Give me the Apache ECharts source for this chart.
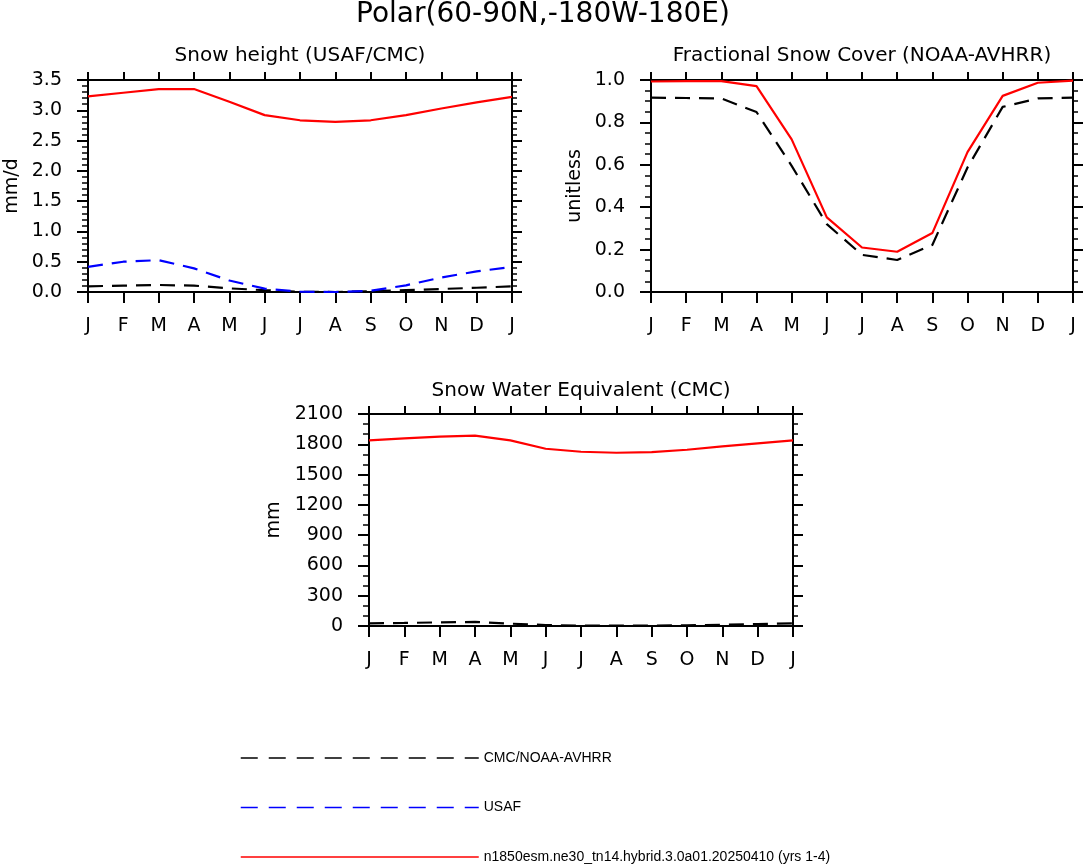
<!DOCTYPE html>
<html>
<head>
<meta charset="utf-8">
<script src="https://cdn.jsdelivr.net/npm/echarts@6/dist/echarts.min.js"></script>
<style>
  html, body { margin: 0; padding: 0; background: #fff; }
  #main { width: 1086px; height: 866px; }
</style>
</head>
<body>
<div id="main"></div>
<script>
'use strict'

var months = ['J', 'F', 'M', 'A', 'M', 'J', 'J', 'A', 'S', 'O', 'N', 'D', 'J'];

// Snow height (mm/d)
var heightCmc = [0.094, 0.105, 0.116, 0.105, 0.06, 0.03, 0.005, 0.0, 0.01, 0.03, 0.05, 0.07, 0.094];
var heightUsaf = [0.415, 0.50, 0.526, 0.39, 0.19, 0.055, 0.005, 0.0, 0.02, 0.11, 0.24, 0.34, 0.415];
var heightModel = [3.23, 3.29, 3.35, 3.35, 3.14, 2.92, 2.835, 2.81, 2.835, 2.92, 3.03, 3.13, 3.22];

// Fractional snow cover (unitless)
var coverObs = [0.917, 0.915, 0.913, 0.849, 0.595, 0.32, 0.175, 0.151, 0.222, 0.587, 0.873, 0.913, 0.917];
var coverModel = [0.993, 0.995, 0.995, 0.971, 0.72, 0.352, 0.21, 0.19, 0.278, 0.66, 0.925, 0.987, 0.997];

// Snow water equivalent (mm)
var sweCmc = [26, 30, 36, 40, 23, 10, 3, 3, 3, 7, 13, 20, 26];
var sweModel = [1839, 1858, 1875, 1885, 1839, 1756, 1726, 1716, 1723, 1746, 1779, 1809, 1839];

var obsName = 'CMC/NOAA-AVHRR';
var usafName = 'USAF';
var modelName = 'n1850esm.ne30_tn14.hybrid.3.0a01.20250410 (yrs 1-4)';

var font = '"DejaVu Sans", sans-serif';
var legendFont = '"Liberation Sans", Arial, sans-serif';

function pairs(vals) {
    return vals.map(function (v, i) { return [i, v]; });
}

function xAxes(grid) {
    var base = {
        gridIndex: grid,
        type: 'value',
        min: 0,
        max: 12,
        interval: 1,
        splitLine: { show: false },
        axisLine: { onZero: false, lineStyle: { color: '#000', width: 2 } },
        axisTick: { length: 11, lineStyle: { color: '#000', width: 2 } }
    };
    var bottom = Object.assign({}, base, {
        position: 'bottom',
        axisLabel: {
            margin: 25,
            fontSize: 19,
            fontFamily: font,
            color: '#000',
            formatter: function (v) { return months[v]; }
        }
    });
    var top = Object.assign({}, base, {
        position: 'top',
        axisTick: { length: 8, lineStyle: { color: '#000', width: 2 } },
        axisLabel: { show: false }
    });
    return [bottom, top];
}

function yAxes(grid, max, interval, minorSplit, name, nameGap, decimals) {
    var base = {
        gridIndex: grid,
        type: 'value',
        min: 0,
        max: max,
        interval: interval,
        splitLine: { show: false },
        axisLine: { onZero: false, lineStyle: { color: '#000', width: 2 } },
        axisTick: { length: 11, lineStyle: { color: '#000', width: 2 } },
        minorTick: { show: true, splitNumber: minorSplit, length: 6, lineStyle: { color: '#000', width: 1.5 } },
        minorSplitLine: { show: false }
    };
    var left = Object.assign({}, base, {
        position: 'left',
        name: name,
        nameLocation: 'middle',
        nameGap: nameGap,
        nameTextStyle: { fontSize: 19, fontFamily: font, color: '#000' },
        axisLabel: {
            margin: 26,
            fontSize: 19,
            fontFamily: font,
            color: '#000',
            formatter: function (v) { return decimals ? v.toFixed(decimals) : String(v); }
        }
    });
    var right = Object.assign({}, base, {
        position: 'right',
        axisTick: { length: 10, lineStyle: { color: '#000', width: 2 } },
        minorTick: { show: true, splitNumber: minorSplit, length: 5, lineStyle: { color: '#000', width: 1.5 } },
        axisLabel: { show: false }
    });
    return [left, right];
}

function line(name, vals, grid, color, dashed) {
    return {
        name: name,
        type: 'line',
        xAxisIndex: grid * 2,
        yAxisIndex: grid * 2,
        data: pairs(vals),
        symbol: 'none',
        silent: true,
        lineStyle: { color: color, width: 2.2, type: dashed ? [15, 9] : 'solid' },
        itemStyle: { color: color }
    };
}

var chart = echarts.init(document.getElementById('main'));
var option = {
    backgroundColor: '#fff',
    animation: false,
    title: [{
        text: 'Polar(60-90N,-180W-180E)',
        left: 543, top: 1, textAlign: 'center', padding: 0,
        textStyle: { fontSize: 28, fontWeight: 'normal', fontFamily: font, color: '#000' }
    }, {
        text: 'Snow height (USAF/CMC)',
        left: 300, top: 46, textAlign: 'center', padding: 0,
        textStyle: { fontSize: 20, fontWeight: 'normal', fontFamily: font, color: '#000' }
    }, {
        text: 'Fractional Snow Cover (NOAA-AVHRR)',
        left: 862, top: 46, textAlign: 'center', padding: 0,
        textStyle: { fontSize: 20, fontWeight: 'normal', fontFamily: font, color: '#000' }
    }, {
        text: 'Snow Water Equivalent (CMC)',
        left: 581, top: 381, textAlign: 'center', padding: 0,
        textStyle: { fontSize: 20, fontWeight: 'normal', fontFamily: font, color: '#000' }
    }],
    legend: {
        orient: 'vertical',
        left: 240,
        top: 751,
        padding: 0,
        itemWidth: 238,
        itemHeight: 14,
        itemGap: 35.5,
        selectedMode: false,
        itemStyle: { opacity: 0 },
        textStyle: { fontSize: 14, fontFamily: legendFont, color: '#000' },
        data: [
            { name: obsName, lineStyle: { width: 1.5, type: [17, 11] } },
            { name: usafName, lineStyle: { width: 1.5, type: [17, 11] } },
            { name: modelName, lineStyle: { width: 1.5, type: 'solid' } }
        ]
    },
    grid: [
        { left: 88, top: 80, width: 424, height: 212 },
        { left: 651, top: 80, width: 422, height: 212 },
        { left: 369, top: 414, width: 424, height: 212 }
    ],
    xAxis: [].concat(xAxes(0), xAxes(1), xAxes(2)),
    yAxis: [].concat(
        yAxes(0, 3.5, 0.5, 5, 'mm/d', 66, 1),
        yAxes(1, 1.0, 0.2, 4, 'unitless', 66, 1),
        yAxes(2, 2100, 300, 3, 'mm', 85, 0)
    ),
    series: [
        line(obsName, heightCmc, 0, '#000000', true),
        line(usafName, heightUsaf, 0, '#0000ff', true),
        line(modelName, heightModel, 0, '#ff0000', false),
        line(obsName, coverObs, 1, '#000000', true),
        line(modelName, coverModel, 1, '#ff0000', false),
        line(obsName, sweCmc, 2, '#000000', true),
        line(modelName, sweModel, 2, '#ff0000', false)
    ]
};
chart.setOption(option);
window.addEventListener('resize', function () {
    chart.resize();
});
</script>
</body>
</html>
